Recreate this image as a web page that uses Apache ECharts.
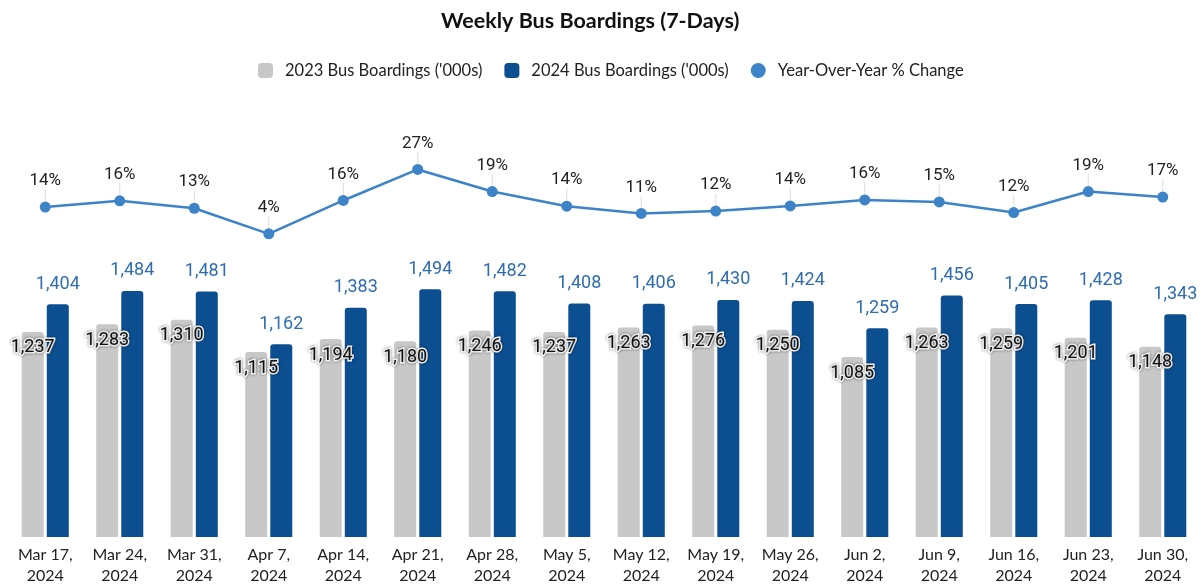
<html>
    <head>
        <meta charset="utf-8">
        <script src="https://cdn.jsdelivr.net/npm/echarts@6/dist/echarts.min.js"></script>
        <style>
            html, body { margin: 0; padding: 0; background: #fff; }
            #main { width: 1203px; height: 586px; }
        </style>
    </head>
    <body>
        <div id="main"></div>
        <script>
            var weeks = [
                'Mar 17,\n2024', 'Mar 24,\n2024', 'Mar 31,\n2024', 'Apr 7,\n2024',
                'Apr 14,\n2024', 'Apr 21,\n2024', 'Apr 28,\n2024', 'May 5,\n2024',
                'May 12,\n2024', 'May 19,\n2024', 'May 26,\n2024', 'Jun 2,\n2024',
                'Jun 9,\n2024', 'Jun 16,\n2024', 'Jun 23,\n2024', 'Jun 30,\n2024'
            ];
            var boardings2023 = [1237, 1283, 1310, 1115, 1194, 1180, 1246, 1237, 1263, 1276, 1250, 1085, 1263, 1259, 1201, 1148];
            var boardings2024 = [1404, 1484, 1481, 1162, 1383, 1494, 1482, 1408, 1406, 1430, 1424, 1259, 1456, 1405, 1428, 1343];
            var yoyChange = [13.5, 15.7, 13.1, 4.2, 15.8, 26.6, 18.9, 13.8, 11.3, 12.1, 13.9, 16.0, 15.3, 11.6, 18.9, 17.0];

            var GREY = '#c8c8c8';
            var BLUE = '#0b4f91';
            var LINE_BLUE = '#3d83c7';

            function fmt(v) {
                return echarts.format.addCommas(v);
            }

            var chart = echarts.init(document.getElementById('main'), null, { renderer: 'canvas' });

            chart.setOption({
                animation: false,
                title: {
                    text: 'Weekly Bus Boardings (7-Days)',
                    left: 436,
                    top: 5,
                    textStyle: {
                        fontFamily: 'Lato',
                        fontWeight: 'bold',
                        fontSize: 21.5,
                        color: '#111'
                    }
                },
                legend: {
                    top: 57,
                    left: 253,
                    itemWidth: 15,
                    itemHeight: 15,
                    itemGap: 22,
                    textStyle: {
                        fontFamily: 'Lato',
                        fontSize: 16.5,
                        color: '#222',
                        padding: [0, 0, 0, 7]
                    },
                    data: [
                        { name: "2023 Bus Boardings ('000s)", icon: 'roundRect' },
                        { name: "2024 Bus Boardings ('000s)", icon: 'roundRect' },
                        { name: 'Year-Over-Year % Change', icon: 'circle' }
                    ]
                },
                grid: {
                    left: 8,
                    right: 3,
                    top: 97.6,
                    bottom: 45,
                    containLabel: false
                },
                xAxis: {
                    type: 'category',
                    data: weeks,
                    axisLine: { show: false },
                    axisTick: { show: false },
                    axisLabel: {
                        fontFamily: 'Lato',
                        fontSize: 16,
                        color: '#222',
                        lineHeight: 21,
                        margin: 7,
                        interval: 0
                    }
                },
                yAxis: [
                    {
                        type: 'value',
                        min: 0,
                        max: 2650,
                        show: false,
                        splitLine: { show: false }
                    },
                    {
                        type: 'value',
                        min: -101.3,
                        max: 51.6,
                        show: false,
                        splitLine: { show: false }
                    }
                ],
                series: [
                    {
                        name: "2023 Bus Boardings ('000s)",
                        type: 'bar',
                        data: boardings2023,
                        barWidth: 22,
                        barGap: '14%',
                        itemStyle: {
                            color: GREY,
                            borderRadius: [3, 3, 0, 0]
                        },
                        label: {
                            show: true,
                            position: 'insideTop',
                            distance: 7,
                            fontFamily: 'Roboto',
                            fontSize: 18,
                            color: '#111',
                            textBorderColor: '#fff',
                            textBorderWidth: 3,
                            textShadowColor: 'rgba(0,0,0,0.45)',
                            textShadowBlur: 3,
                            formatter: function (p) { return fmt(p.value); }
                        }
                    },
                    {
                        name: "2024 Bus Boardings ('000s)",
                        type: 'bar',
                        data: boardings2024,
                        barWidth: 22,
                        itemStyle: {
                            color: BLUE,
                            borderRadius: [3, 3, 0, 0]
                        },
                        label: {
                            show: true,
                            position: 'top',
                            distance: 11,
                            fontFamily: 'Roboto',
                            fontSize: 18,
                            color: '#2f6db0',
                            formatter: function (p) { return fmt(p.value); }
                        }
                    },
                    {
                        name: 'Year-Over-Year % Change',
                        type: 'line',
                        yAxisIndex: 1,
                        data: yoyChange,
                        symbol: 'circle',
                        symbolSize: 11,
                        z: 5,
                        lineStyle: { color: LINE_BLUE, width: 2.5 },
                        itemStyle: { color: LINE_BLUE },
                        label: {
                            show: true,
                            position: 'top',
                            distance: 4,
                            fontFamily: 'Roboto',
                            fontSize: 17,
                            color: '#222',
                            formatter: function (p) { return Math.round(p.value) + '%'; }
                        },
                        labelLayout: { dy: -8 },
                        labelLine: {
                            show: true,
                            lineStyle: { color: '#dcdcdc', width: 1 }
                        }
                    }
                ]
            });
        </script>
    </body>
</html>
